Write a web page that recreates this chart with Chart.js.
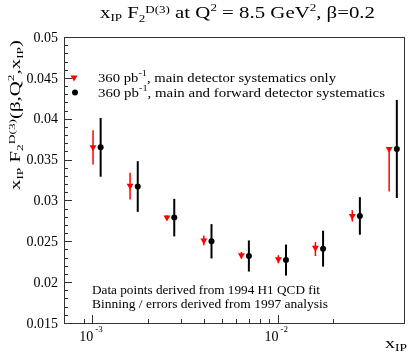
<!DOCTYPE html>
<html><head><meta charset="utf-8">
<script src="https://cdn.jsdelivr.net/npm/chart.js@4"></script>
<style>html,body{margin:0;padding:0;background:#fff}canvas{display:block}</style>
</head><body>
<canvas id="c" width="409" height="354"></canvas>
<script>
// ---- data ----
const xRed = [0.00101, 0.00160, 0.00253, 0.00400, 0.00638, 0.0101, 0.0160, 0.0253, 0.0400];
const yRed = [0.0365, 0.0318, 0.0279, 0.0251, 0.0233, 0.0228, 0.0242, 0.0281, 0.0363];
const errRedUp = [0.0021, 0.0016, 0.0003, 0.0006, 0.0004, 0.0005, 0.0007, 0.0007, 0.0000];
const errRedDown = [0.0021, 0.0017, 0.0003, 0.0006, 0.0004, 0.0005, 0.0010, 0.0007, 0.0052];
const xBlack = [0.00111, 0.00176, 0.00277, 0.00440, 0.00700, 0.0111, 0.0176, 0.0278, 0.0440];
const yBlack = [0.0365, 0.0317, 0.0279, 0.0250, 0.0232, 0.0227, 0.0241, 0.0281, 0.0363];
const errBlack = [0.0036, 0.0031, 0.0023, 0.0021, 0.0019, 0.0019, 0.0022, 0.0023, 0.0060];
const yTickValues = [0.015, 0.02, 0.025, 0.03, 0.035, 0.04, 0.045, 0.05];
const yTickLabels = ['0.015', '0.02', '0.025', '0.03', '0.035', '0.04', '0.045', '0.05'];
const xMajorTicks = [0.001, 0.01];
const xMajorExps = ['-3', '-2'];
const xMinorTicks = [0.0009, 0.002, 0.003, 0.004, 0.005, 0.006, 0.007, 0.008, 0.009, 0.02];
const xMin = 0.000704, xMax = 0.0487, yMin = 0.015, yMax = 0.05, yMinorStep = 0.001;

const SERIF = '"Liberation Serif", "DejaVu Serif", serif';

function richWidth(ctx, parts) {
  let w = 0;
  for (const p of parts) { ctx.font = p[1] + 'px ' + SERIF; w += ctx.measureText(p[0]).width; }
  return w;
}
// draws parts starting at x (left), optionally stretched to a target width
function rich(ctx, parts, x, y, target) {
  const w = richWidth(ctx, parts);
  const sx = target ? target / w : 1;
  ctx.save();
  ctx.translate(x, y);
  ctx.scale(sx, 1);
  ctx.textAlign = 'left';
  ctx.textBaseline = 'alphabetic';
  let cx = 0;
  for (const p of parts) {
    ctx.font = p[1] + 'px ' + SERIF;
    ctx.fillText(p[0], cx, p[2] || 0);
    cx += ctx.measureText(p[0]).width;
  }
  ctx.restore();
  return w * sx;
}

const errorBars = {
  id: 'errorBars',
  beforeDatasetsDraw(chart) {
    const ctx = chart.ctx, xs = chart.scales.x, ys = chart.scales.y;
    ctx.save();
    ctx.strokeStyle = '#ff0000'; ctx.lineWidth = 1.5;
    xRed.forEach((xv, i) => {
      const px = xs.getPixelForValue(xv);
      ctx.beginPath();
      ctx.moveTo(px, ys.getPixelForValue(yRed[i] + errRedUp[i]));
      ctx.lineTo(px, ys.getPixelForValue(yRed[i] - errRedDown[i]));
      ctx.stroke();
    });
    ctx.strokeStyle = '#000'; ctx.lineWidth = 2;
    xBlack.forEach((xv, i) => {
      const px = xs.getPixelForValue(xv);
      ctx.beginPath();
      ctx.moveTo(px, ys.getPixelForValue(yBlack[i] + errBlack[i]));
      ctx.lineTo(px, ys.getPixelForValue(yBlack[i] - errBlack[i]));
      ctx.stroke();
    });
    ctx.restore();
  }
};

const frame = {
  id: 'frame',
  afterDraw(chart) {
    const ctx = chart.ctx, xs = chart.scales.x, ys = chart.scales.y, a = chart.chartArea;
    ctx.save();
    ctx.strokeStyle = '#333'; ctx.lineWidth = 1;
    ctx.strokeRect(Math.round(a.left) + 0.5, Math.round(a.top) + 0.5, Math.round(a.right - a.left) - 1, Math.round(a.bottom - a.top));
    ctx.beginPath();
    for (let v = yMin; v <= yMax + 1e-9; v += yMinorStep) {
      const py = Math.round(ys.getPixelForValue(v)) + 0.5;
      const major = yTickValues.some(t => Math.abs(t - v) < 1e-7);
      ctx.moveTo(a.left, py); ctx.lineTo(a.left + (major ? 8 : 4), py);
    }
    xMajorTicks.forEach(v => { const px = Math.round(xs.getPixelForValue(v)) + 0.5; ctx.moveTo(px, a.bottom); ctx.lineTo(px, a.bottom - 8); });
    xMinorTicks.forEach(v => { const px = Math.round(xs.getPixelForValue(v)) + 0.5; ctx.moveTo(px, a.bottom); ctx.lineTo(px, a.bottom - 4); });
    ctx.stroke();

    ctx.fillStyle = '#000';
    // y labels
    ctx.font = '14px ' + SERIF; ctx.textAlign = 'right'; ctx.textBaseline = 'middle';
    yTickValues.forEach((v, i) => ctx.fillText(yTickLabels[i], a.left - 6, ys.getPixelForValue(v) + 1));
    // x labels
    xMajorTicks.forEach((v, i) => {
      const px = xs.getPixelForValue(v);
      ctx.font = '14px ' + SERIF; ctx.textAlign = 'right'; ctx.textBaseline = 'alphabetic';
      ctx.fillText('10', px + 1, 341);
      ctx.font = '9px ' + SERIF; ctx.textAlign = 'left';
      ctx.fillText(xMajorExps[i], px + 3, 332);
    });
    // x title
    rich(ctx, [['x', 15, 0], ['IP', 10, 3]], 385, 348, 22);
    // title
    rich(ctx, [['x', 16, 0], ['IP', 10, 3], [' F', 16, 0], ['2', 10, 4], ['D(3)', 10, -5], [' at Q', 16, 0], ['2', 10, -7], [' = 8.5 GeV', 16, 0], ['2', 10, -7], [', β=0.2', 16, 0]], 100, 18, 275);
    // y title (rotated)
    const yt = [['x', 14, 0], ['IP', 9, 3], [' F', 14, 0], ['2', 9, 3], ['D(3)', 9, -5], ['(β,Q', 14, 0], ['2', 9, -6], [',x', 14, 0], ['IP', 9, 3], [')', 14, 0]];
    const yLen = 150;
    ctx.save();
    ctx.translate(20, 40 + yLen);
    ctx.rotate(-Math.PI / 2);
    rich(ctx, yt, 0, 0, yLen);
    ctx.restore();
    // legend
    ctx.fillStyle = '#ff0000';
    ctx.beginPath(); ctx.moveTo(70.5, 75.5); ctx.lineTo(77.5, 75.5); ctx.lineTo(74, 81.5); ctx.closePath(); ctx.fill();
    ctx.fillStyle = '#000';
    ctx.beginPath(); ctx.arc(75, 92.5, 3, 0, Math.PI * 2); ctx.fill();
    rich(ctx, [['360 pb', 13, 0], ['-1', 9, -6], [', main detector systematics only', 13, 0]], 98, 82, 238);
    rich(ctx, [['360 pb', 13, 0], ['-1', 9, -6], [', main and forward detector systematics', 13, 0]], 98, 96.5, 287);
    // notes
    rich(ctx, [['Data points derived from 1994 H1 QCD fit', 12, 0]], 92, 294, 228);
    rich(ctx, [['Binning / errors derived from 1997 analysis', 12, 0]], 92, 308, 236);
    ctx.restore();
  }
};

new Chart(document.getElementById('c'), {
  type: 'scatter',
  data: {
    datasets: [
      { data: xRed.map((x, i) => ({ x, y: yRed[i] })), pointStyle: 'triangle', rotation: 180, radius: 4, backgroundColor: '#ff0000', borderColor: '#ff0000', borderWidth: 0 },
      { data: xBlack.map((x, i) => ({ x, y: yBlack[i] })), pointStyle: 'circle', radius: 3, backgroundColor: '#000', borderColor: '#000', borderWidth: 0 }
    ]
  },
  options: {
    responsive: false, animation: false, events: [],
    layout: { padding: { left: 64, right: 3, top: 37, bottom: 31 } },
    scales: {
      x: { type: 'logarithmic', min: xMin, max: xMax, display: false },
      y: { type: 'linear', min: yMin, max: yMax, display: false }
    },
    plugins: { legend: { display: false }, tooltip: { enabled: false } }
  },
  plugins: [errorBars, frame]
});
</script>
</body></html>
